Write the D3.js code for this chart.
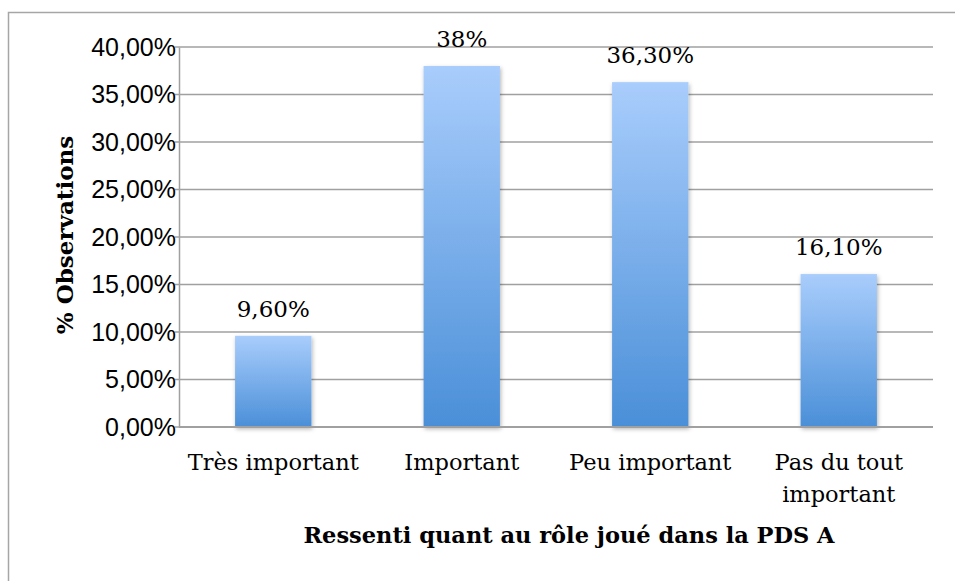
<!DOCTYPE html>
<html lang="fr">
<head>
    <meta charset="utf-8">
    <title>Ressenti PDS A</title>
    <style>
        html, body{ margin:0; padding:0; overflow:hidden; background:#fff; }
        svg{ display:block; }
        .tick text{ font-family:"Liberation Sans", Arial, sans-serif; }
    </style>
    <script src="https://cdn.jsdelivr.net/npm/d3@7"></script>
</head>
<body>
<div id="chart"></div>
<script>
    // données
    var categories = ["Très important", "Important", "Peu important", "Pas du tout important"];
    var values = [9.6, 38, 36.3, 16.1];
    var valueLabels = ["9,60%", "38%", "36,30%", "16,10%"];
    var yTicks = [0, 5, 10, 15, 20, 25, 30, 35, 40];

    var W = 955, H = 581;
    var margin = {left: 179, right: 22, top: 47, bottom: 154};

    var svg = d3.select("#chart").append("svg")
        .attr("width", W)
        .attr("height", H);

    var defs = svg.append("defs");
    var grad = defs.append("linearGradient")
        .attr("id", "barGrad")
        .attr("x1", 0).attr("y1", 0).attr("x2", 0).attr("y2", 1);
    grad.append("stop").attr("offset", "0%").attr("stop-color", "#a9cdfc");
    grad.append("stop").attr("offset", "100%").attr("stop-color", "#4a8fd8");

    // ombre des barres
    var shadow = defs.append("filter").attr("id", "shadow")
        .attr("x", "-20%").attr("y", "-20%").attr("width", "140%").attr("height", "140%");
    shadow.append("feDropShadow")
        .attr("dx", 1).attr("dy", 2).attr("stdDeviation", 2)
        .attr("flood-color", "#000").attr("flood-opacity", 0.3);

    // cadre du graphique : seuls les bords gauche et haut sont visibles
    svg.append("path")
        .attr("d", "M8.5," + H + "V12.5H" + W)
        .attr("fill", "none")
        .attr("stroke", "#a6a6a6")
        .attr("stroke-width", 1.5);

    var x = d3.scaleBand()
        .domain(categories)
        .range([margin.left, W - margin.right]);

    var y = d3.scaleLinear()
        .domain([0, 40])
        .range([H - margin.bottom, margin.top]);

    // grille
    svg.append("g")
        .selectAll("line")
        .data(yTicks)
        .enter()
        .append("line")
        .attr("x1", margin.left - 4)
        .attr("x2", W - margin.right)
        .attr("y1", function (d) { return y(d); })
        .attr("y2", function (d) { return y(d); })
        .attr("stroke", "#a0a0a0")
        .attr("stroke-width", 1.5);

    // axe y
    var yAxis = svg.append("g")
        .attr("transform", "translate(" + margin.left + ",0)")
        .call(d3.axisLeft(y)
            .tickValues(yTicks)
            .tickSize(0)
            .tickPadding(3)
            .tickFormat(function (d) { return d3.format(".2f")(d).replace(".", ",") + "%"; }));
    yAxis.select(".domain").attr("stroke", "#a0a0a0").attr("stroke-width", 1.5);
    yAxis.selectAll("text")
        .attr("font-size", 25)
        .attr("fill", "#000");

    // barres
    var barW = x.bandwidth() * 0.405;
    svg.append("g")
        .selectAll("rect")
        .data(values)
        .enter()
        .append("rect")
        .attr("x", function (d, i) { return x(categories[i]) + (x.bandwidth() - barW) / 2; })
        .attr("y", function (d) { return y(d); })
        .attr("width", barW)
        .attr("height", function (d) { return y(0) - y(d); })
        .attr("fill", "url(#barGrad)")
        .attr("filter", "url(#shadow)");

    // axe x (ligne de base)
    svg.append("line")
        .attr("x1", margin.left)
        .attr("x2", W - margin.right)
        .attr("y1", y(0))
        .attr("y2", y(0))
        .attr("stroke", "#a0a0a0")
        .attr("stroke-width", 2);

    // étiquettes de valeurs
    svg.append("g")
        .selectAll("text")
        .data(values)
        .enter()
        .append("text")
        .attr("x", function (d, i) { return x(categories[i]) + x.bandwidth() / 2; })
        .attr("y", function (d) { return y(d) - 19; })
        .attr("text-anchor", "middle")
        .attr("font-family", "'DejaVu Serif', serif")
        .attr("font-size", 23)
        .text(function (d, i) { return valueLabels[i]; });

    // libellés des catégories
    var catLines = [["Très important"], ["Important"], ["Peu important"], ["Pas du tout", "important"]];
    svg.append("g")
        .selectAll("text")
        .data(categories)
        .enter()
        .append("text")
        .attr("x", function (d) { return x(d) + x.bandwidth() / 2; })
        .attr("y", 470)
        .attr("text-anchor", "middle")
        .attr("font-family", "'DejaVu Serif', serif")
        .attr("font-size", 22.5)
        .each(function (d, i) {
            var t = d3.select(this);
            catLines[i].forEach(function (l, j) {
                t.append("tspan")
                    .attr("x", x(d) + x.bandwidth() / 2)
                    .attr("dy", j === 0 ? 0 : 32)
                    .text(l);
            });
        });

    // titres des axes
    svg.append("text")
        .attr("x", 569)
        .attr("y", 543)
        .attr("text-anchor", "middle")
        .attr("font-family", "'DejaVu Serif', serif")
        .attr("font-weight", "bold")
        .attr("font-size", 22.5)
        .text("Ressenti quant au rôle joué dans la PDS A");

    svg.append("text")
        .attr("transform", "translate(73,235) rotate(-90)")
        .attr("text-anchor", "middle")
        .attr("font-family", "'DejaVu Serif', serif")
        .attr("font-weight", "bold")
        .attr("font-size", 23)
        .text("% Observations");
</script>
</body>
</html>
